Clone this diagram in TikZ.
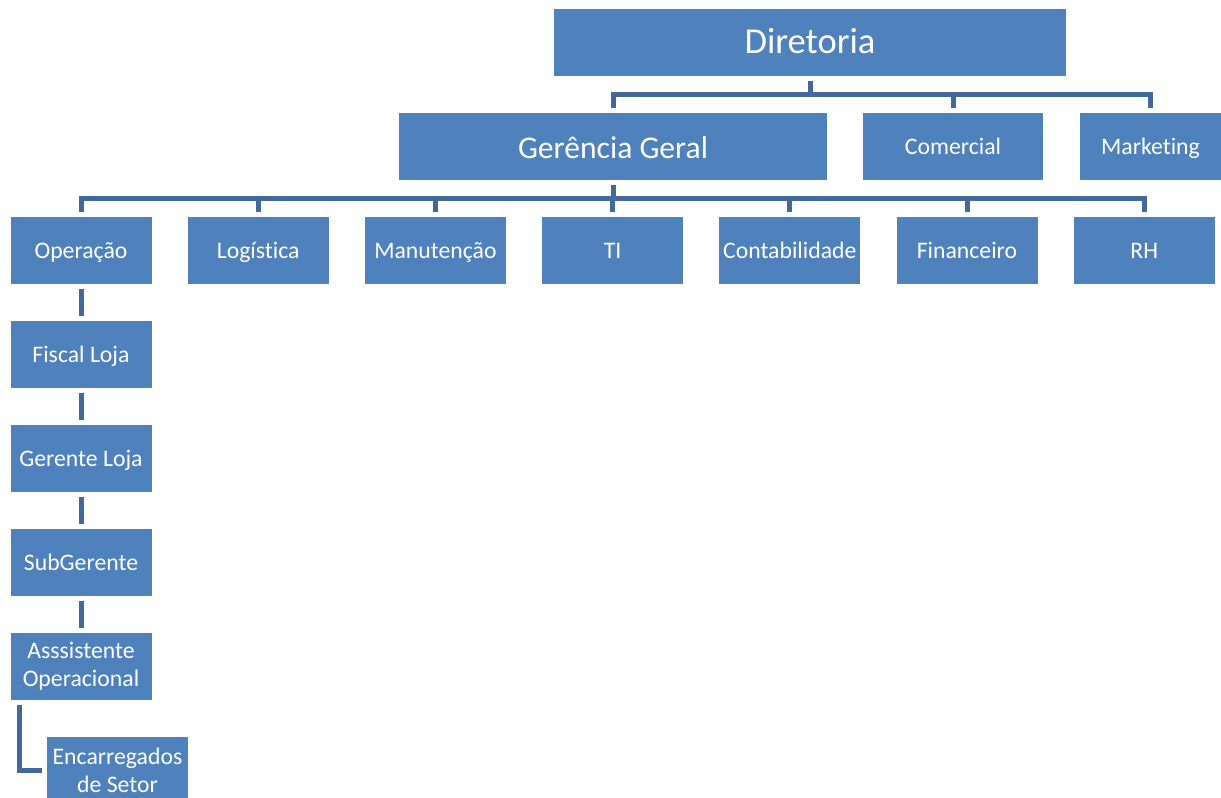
\documentclass[tikz,border=0pt]{standalone}
\usepackage{fontspec}
\setmainfont[Ligatures=NoCommon]{Carlito}
\usetikzlibrary{positioning}
\definecolor{boxblue}{HTML}{4F81BD}
\definecolor{lineblue}{HTML}{41699C}
\tikzstyle{unit} = [rectangle, fill=boxblue, text=white, minimum width=105.75pt, minimum height=50.25pt, inner sep=1pt, outer sep=3.75pt, align=center, text height=15.5pt, text depth=3.6pt, font=\fontsize{17.8}{21}\selectfont]
\tikzstyle{twoline} = [text height={}, text depth={}]
\tikzstyle{link} = [line width=3.75pt, draw=lineblue]

\begin{document}
\begin{tikzpicture}[x=0.75pt, y=-0.75pt, node distance=132.9pt]
        \useasboundingbox (0,0) rectangle (1221,798);
        % top levels
        \node[unit, minimum width=384pt, text height=22pt, text depth=5.5pt, font=\fontsize{27.4}{32}\selectfont] (diretoria) at (810,42.5) {Diretoria};
        \node[unit, minimum width=321pt, text height=22.5pt, text depth=4.8pt, font=\fontsize{23.7}{28}\selectfont] (gerencia) at (613,146.5) {Gerência Geral};
        \node[unit, minimum width=135pt] (comercial) at (953,146.5) {Comercial};
        \node[unit] (marketing) at (1150.5,146.5) {Marketing};
        % departments
        \node[unit] (operacao) at (81,250.5) {Operação};
        \node[unit, right of=operacao] (logistica) {Logística};
        \node[unit, right of=logistica] (manutencao) {Manutenção};
        \node[unit, right of=manutencao] (ti) {TI};
        \node[unit, right of=ti] (contabilidade) {Contabilidade};
        \node[unit, right of=contabilidade] (financeiro) {Financeiro};
        \node[unit, right of=financeiro] (rh) {RH};
        % operation chain
        \node[unit, below of=operacao, node distance=78pt] (fiscal) {Fiscal Loja};
        \node[unit, below of=fiscal, node distance=78pt] (gerente) {Gerente Loja};
        \node[unit, below of=gerente, node distance=78pt] (subgerente) {SubGerente};
        \node[unit, twoline, below of=subgerente, node distance=78pt] (assistente) {Asssistente\\Operacional};
        \node[unit, twoline] (encarregados) at (117.5,770.5) {Encarregados\\de Setor};

        \foreach \n in {gerencia, comercial, marketing}
            \draw[link] (diretoria.south) -- ++(0,14) -| (\n.north);
        \foreach \n in {operacao, logistica, manutencao, ti, contabilidade, financeiro, rh}
            \draw[link] (gerencia.south) -- ++(0,14) -| (\n.north);
        \draw[link] (operacao) -- (fiscal);
        \draw[link] (fiscal) -- (gerente);
        \draw[link] (gerente) -- (subgerente);
        \draw[link] (subgerente) -- (assistente);
        \draw[link] ([xshift=10.5pt]assistente.south west) |- (encarregados.west);
    \end{tikzpicture}
\end{document}
